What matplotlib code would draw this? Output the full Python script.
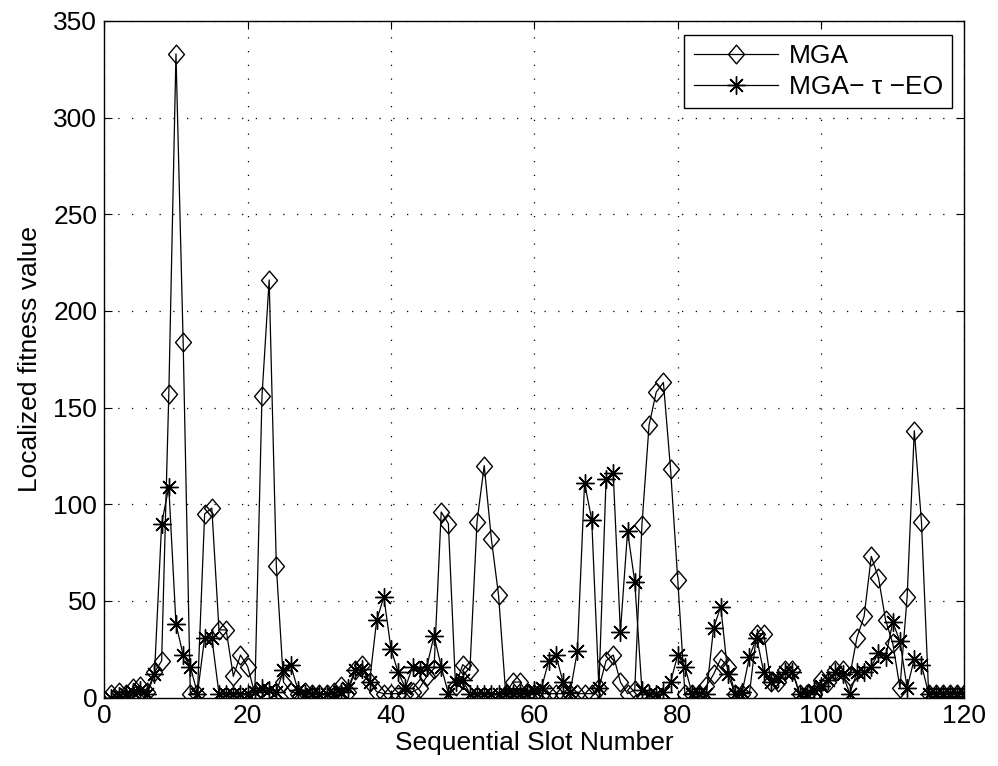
import matplotlib
matplotlib.use("Agg")
import matplotlib.pyplot as plt
from matplotlib.path import Path
import numpy as np

slots = list(range(1, 121))

mga = [2, 3, 2, 5, 6, 3, 13, 19, 157, 333,
       184, 2, 2, 95, 98, 35, 35, 11, 22, 16,
       2, 156, 216, 68, 8, 3, 2, 3, 2, 2,
       2, 3, 6, 3, 14, 17, 8, 3, 2, 2,
       2, 2, 3, 5, 11, 15, 96, 90, 6, 17,
       14, 91, 120, 82, 53, 2, 8, 8, 2, 2,
       2, 2, 2, 2, 2, 2, 2, 2, 5, 19,
       22, 8, 2, 4, 89, 141, 158, 163, 118, 61,
       2, 2, 2, 6, 12, 20, 16, 2, 2, 2,
       33, 33, 8, 8, 14, 14, 2, 2, 2, 9,
       8, 14, 14, 11, 31, 42, 73, 62, 40, 28,
       5, 52, 138, 91, 2, 2, 2, 2, 2, 2]

mga_teo = [0, 1, 2, 3, 4, 2, 12, 90, 109, 38,
           22, 16, 2, 31, 31, 2, 2, 2, 2, 2,
           3, 5, 4, 3, 14, 17, 4, 2, 2, 2,
           2, 2, 3, 5, 14, 15, 8, 40, 52, 25,
           13, 5, 16, 14, 16, 32, 16, 2, 8, 9,
           2, 2, 2, 2, 2, 2, 2, 2, 2, 4,
           5, 19, 22, 8, 3, 24, 111, 92, 5, 113,
           116, 34, 86, 60, 4, 2, 2, 3, 8, 22,
           16, 2, 2, 2, 36, 47, 12, 2, 3, 21,
           31, 13, 8, 10, 13, 13, 2, 2, 4, 6,
           9, 13, 12, 2, 13, 13, 16, 23, 21, 39,
           29, 5, 20, 17, 2, 2, 2, 2, 2, 2]

xticks = [0, 20, 40, 60, 80, 100, 120]
yticks = [0, 50, 100, 150, 200, 250, 300, 350]

plt.rcParams['font.family'] = ['Liberation Sans', 'DejaVu Sans']

diamond = Path([(0, 1), (0.85, 0), (0, -1), (-0.85, 0), (0, 1)],
               [Path.MOVETO, Path.LINETO, Path.LINETO, Path.LINETO, Path.CLOSEPOLY])

fig = plt.figure(figsize=(9.98, 7.66), dpi=100)
ax = fig.add_axes([0.1045, 0.0894, 0.8619, 0.8832])

ax.plot(slots, mga, color='black', lw=0.9, marker=diamond, ms=13.5,
        mfc='none', mec='black', mew=1.0, label='MGA')
ax.plot(slots, mga_teo, color='black', lw=0.9, marker=(8, 2, 0), ms=13,
        mec='black', mew=1.0, label='MGA\u2212 \u03c4 \u2212EO')

ax.set_xlim(0, 120)
ax.set_ylim(0, 350)
ax.set_xticks(xticks)
ax.set_yticks(yticks)
ax.tick_params(direction='in', top=True, right=True, length=6, width=0.8,
               labelsize=19, pad=5)
ax.grid(True, linestyle=(0, (1, 10)), color='black', linewidth=0.9)
for s in ax.spines.values():
    s.set_linewidth(1.0)

ax.set_xlabel('Sequential Slot Number', fontsize=19, labelpad=2)
ax.set_ylabel('Localized fitness value', fontsize=19, labelpad=8)

leg = ax.legend(loc='upper right', bbox_to_anchor=(0.9855, 0.979),
                borderaxespad=0, fontsize=19, numpoints=1, handlelength=3.2,
                handletextpad=0.4, labelspacing=0.25, borderpad=0.35,
                fancybox=False, edgecolor='black', framealpha=1)
leg.get_frame().set_linewidth(1.0)

fig.savefig('out.png', dpi=100)
